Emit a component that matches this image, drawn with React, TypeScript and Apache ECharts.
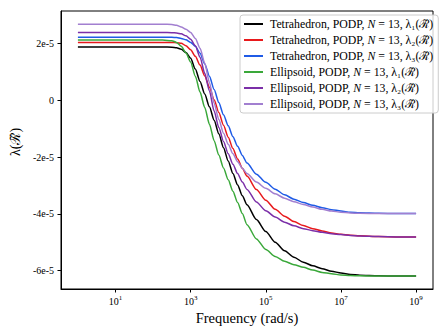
import React, { useEffect, useRef } from "react";
import * as echarts from "echarts";

// log10 of angular frequency (rad/s)
const logFreq = [0, 0.5, 1, 1.5, 2, 2.25, 2.5, 2.625, 2.75, 2.875, 3, 3.125, 3.25, 3.375, 3.5, 3.625, 3.75, 3.875, 4, 4.125, 4.25, 4.375, 4.5, 4.75, 5, 5.25, 5.5, 5.75, 6, 6.25, 6.5, 6.75, 7, 7.25, 7.5, 8, 8.5, 9];

// eigenvalues in units of 1e-5
const tetraL1 = [1.88, 1.88, 1.88, 1.88, 1.88, 1.88, 1.87, 1.85, 1.8, 1.68, 1.48, 1.1, 0.66, 0.22, -0.23, -0.7, -1.18, -1.67, -2.14, -2.58, -2.98, -3.36, -3.68, -4.2, -4.62, -5.0, -5.3, -5.53, -5.7, -5.83, -5.93, -6.02, -6.08, -6.13, -6.16, -6.18, -6.19, -6.19];
const tetraL2 = [2.04, 2.04, 2.04, 2.04, 2.04, 2.04, 2.04, 2.03, 2.01, 1.92, 1.78, 1.55, 1.24, 0.86, 0.46, 0.02, -0.43, -0.88, -1.3, -1.7, -2.07, -2.39, -2.67, -3.14, -3.52, -3.84, -4.08, -4.27, -4.41, -4.52, -4.6, -4.67, -4.72, -4.75, -4.77, -4.8, -4.81, -4.81];
const tetraL3 = [2.22, 2.22, 2.22, 2.22, 2.22, 2.22, 2.22, 2.21, 2.18, 2.13, 2.04, 1.9, 1.66, 1.28, 0.85, 0.38, -0.08, -0.51, -0.9, -1.28, -1.62, -1.94, -2.21, -2.6, -2.89, -3.13, -3.33, -3.48, -3.6, -3.7, -3.78, -3.85, -3.9, -3.94, -3.96, -3.98, -3.99, -3.99];
const ellipL1 = [2.12, 2.12, 2.12, 2.12, 2.12, 2.12, 2.1, 2.04, 1.9, 1.67, 1.35, 0.85, 0.29, -0.25, -0.84, -1.42, -1.93, -2.38, -2.8, -3.2, -3.6, -3.99, -4.38, -4.88, -5.25, -5.5, -5.67, -5.79, -5.88, -5.98, -6.06, -6.11, -6.15, -6.17, -6.18, -6.19, -6.19, -6.19];
const ellipL2 = [2.39, 2.39, 2.39, 2.39, 2.39, 2.39, 2.38, 2.37, 2.34, 2.27, 2.15, 1.92, 1.52, 0.95, 0.33, -0.38, -0.96, -1.45, -1.88, -2.25, -2.58, -2.88, -3.14, -3.58, -3.89, -4.11, -4.29, -4.42, -4.52, -4.59, -4.65, -4.7, -4.73, -4.76, -4.78, -4.8, -4.81, -4.81];
const ellipL3 = [2.68, 2.68, 2.68, 2.68, 2.68, 2.68, 2.67, 2.64, 2.58, 2.5, 2.39, 2.18, 1.83, 1.31, 0.63, -0.1, -0.68, -1.16, -1.55, -1.88, -2.16, -2.39, -2.58, -2.88, -3.1, -3.29, -3.45, -3.57, -3.67, -3.76, -3.84, -3.9, -3.94, -3.97, -3.98, -3.99, -3.99, -3.99];

const seriesNames = [
  "Tetrahedron, PODP, N = 13, λ₁(ℛ̃)",
  "Tetrahedron, PODP, N = 13, λ₂(ℛ̃)",
  "Tetrahedron, PODP, N = 13, λ₃(ℛ̃)",
  "Ellipsoid, PODP, N = 13, λ₁(ℛ̃)",
  "Ellipsoid, PODP, N = 13, λ₂(ℛ̃)",
  "Ellipsoid, PODP, N = 13, λ₃(ℛ̃)",
];
const seriesValues = [tetraL1, tetraL2, tetraL3, ellipL1, ellipL2, ellipL3];
const seriesColors = ["#000000", "#e8191c", "#1f5be6", "#3aa83a", "#7b2fa8", "#a27fd0"];

const xTicks = [1, 3, 5, 7, 9];
const yTicks = [-6, -4, -2, 0, 2];

const FONT = "'Liberation Serif', 'DejaVu Serif', serif";

export default function App() {
  const ref = useRef<HTMLDivElement>(null);
  useEffect(() => {
    const chart = echarts.init(ref.current!, null, { renderer: "svg" });
    chart.setOption({
      animation: false,
      backgroundColor: "#fff",
      grid: {
        left: 57,
        right: 10,
        top: 11,
        bottom: 43,
        show: true,
        borderColor: "#000",
        borderWidth: 1,
        containLabel: false,
      },
      xAxis: {
        type: "value",
        min: -0.45,
        max: 9.45,
        axisLine: { show: true, onZero: false, lineStyle: { color: "#000", width: 1 } },
        axisTick: { show: true, customValues: xTicks, length: 3.5, lineStyle: { color: "#000" } },
        axisLabel: {
          customValues: xTicks,
          margin: 5,
          formatter: (v: number) => `{b|10}{s|${v}}`,
          rich: {
            b: { fontFamily: FONT, fontSize: 10, color: "#000", lineHeight: 12, verticalAlign: "bottom" },
            s: { fontFamily: FONT, fontSize: 7, color: "#000", lineHeight: 7, verticalAlign: "top" },
          },
        },
        splitLine: { show: false },
        name: "Frequency (rad/s)",
        nameLocation: "middle",
        nameGap: 19,
        nameTextStyle: { fontFamily: FONT, fontSize: 14.5, color: "#000" },
      },
      yAxis: {
        type: "value",
        min: -6.645,
        max: 3.145,
        axisLine: { show: true, onZero: false, lineStyle: { color: "#000", width: 1 } },
        axisTick: { show: true, customValues: yTicks, length: 3.5, lineStyle: { color: "#000" } },
        axisLabel: {
          customValues: yTicks,
          margin: 7,
          fontFamily: FONT,
          fontSize: 10,
          color: "#000",
          formatter: (v: number) => (v === 0 ? "0" : `${v}e-5`),
        },
        splitLine: { show: false },
        name: "λ(ℛ̃)",
        nameLocation: "middle",
        nameGap: 28,
        nameTextStyle: { fontFamily: FONT, fontSize: 14, color: "#000", padding: [0, 0, 0, 16] },
      },
      legend: {
        orient: "vertical",
        left: 240,
        top: 15,
        icon: "rect",
        itemWidth: 19,
        itemHeight: 2,
        itemGap: 4,
        padding: [3, 5, 3, 4],
        borderColor: "#cccccc",
        borderWidth: 1,
        borderRadius: 3,
        backgroundColor: "rgba(255,255,255,0.8)",
        data: seriesNames,
        formatter: (name: string) => name.replace(" N ", " {i|N} "),
        textStyle: {
          fontFamily: FONT,
          fontSize: 11.8,
          color: "#000",
          lineHeight: 12,
          padding: [0, 0, 0, 2],
          rich: {
            i: { fontFamily: FONT, fontSize: 11.8, fontStyle: "italic", color: "#000" },
          },
        },
      },
      series: seriesNames.map((name, i) => ({
        name,
        type: "line",
        data: logFreq.map((x, j) => [x, seriesValues[i][j]]),
        symbol: "none",
        smooth: 0.25,
        smoothMonotone: "x",
        lineStyle: { color: seriesColors[i], width: 1.5 },
        itemStyle: { color: seriesColors[i] },
      })),
    });
    return () => chart.dispose();
  }, []);
  return <div ref={ref} style={{ position: "absolute", left: 0, top: 0, width: 443, height: 332 }} />;
}
